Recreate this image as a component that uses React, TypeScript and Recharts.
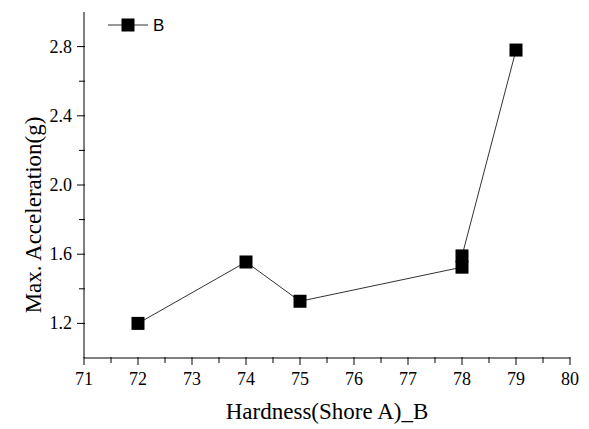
import React from 'react';
import { LineChart, Line, XAxis, YAxis } from 'recharts';

// readings
const hardness = [72, 74, 75, 78, 78, 79];
const maxAccel = [1.2, 1.555, 1.328, 1.525, 1.59, 2.78];
const seriesName = 'B';

const xTicks = [71, 71.5, 72, 72.5, 73, 73.5, 74, 74.5, 75, 75.5, 76, 76.5, 77, 77.5, 78, 78.5, 79, 79.5, 80];
const yTicks = [1.2, 1.4, 1.6, 1.8, 2.0, 2.2, 2.4, 2.6, 2.8];
const yMajor = [1.2, 1.6, 2.0, 2.4, 2.8];

const data = hardness.map((h, i) => ({ h, v: maxAccel[i] }));

const SERIF = '"Liberation Serif", "Times New Roman", serif';
const SANS = '"Liberation Sans", Arial, sans-serif';

const SquareDot = (props: any) => {
  const { cx, cy } = props;
  if (cx == null || cy == null) return null;
  return <rect x={cx - 6.5} y={cy - 6.5} width={13} height={13} fill="#000" />;
};

const renderXTick = (props: any) => {
  const { x, y, payload } = props;
  const major = Number.isInteger(payload.value);
  return (
    <g key={`xt-${payload.value}`}>
      <line x1={x} x2={x} y1={y - 1} y2={y + (major ? 7 : 5)} stroke="#000" strokeWidth={1} />
      {major && (
        <text x={x} y={y + 27} textAnchor="middle" fontFamily={SERIF} fontSize={18} fill="#000">
          {payload.value}
        </text>
      )}
    </g>
  );
};

const renderYTick = (props: any) => {
  const { x, y, payload } = props;
  const major = yMajor.some((m) => Math.abs(m - payload.value) < 1e-6);
  return (
    <g key={`yt-${payload.value}`}>
      <line x1={x + 1} x2={x - (major ? 7 : 5)} y1={y} y2={y} stroke="#000" strokeWidth={1} />
      {major && (
        <text x={x - 12} y={y + 6} textAnchor="end" fontFamily={SERIF} fontSize={18} fill="#000">
          {payload.value.toFixed(1)}
        </text>
      )}
    </g>
  );
};

export default function App() {
  return (
    <div style={{ position: 'absolute', left: 0, top: 0, width: 589, height: 429, background: '#fff' }}>
      <LineChart width={589} height={429} data={data} margin={{ top: 12, right: 19, bottom: 0, left: 0 }}>
        <XAxis
          dataKey="h"
          type="number"
          domain={[71, 80]}
          allowDataOverflow
          ticks={xTicks}
          interval={0}
          height={71}
          tickSize={0}
          tickMargin={0}
          tickLine={false}
          tick={renderXTick}
          axisLine={{ stroke: '#000', strokeWidth: 1 }}
          label={{
            content: (p: any) => {
              const vb = p.viewBox;
              return (
                <text x={vb.x + vb.width / 2} y={vb.y + 61} textAnchor="middle" fontFamily={SERIF} fontSize={23} fill="#000">
                  Hardness(Shore A)_B
                </text>
              );
            },
          }}
        />
        <YAxis
          type="number"
          domain={[1.0, 3.0]}
          allowDataOverflow
          ticks={yTicks}
          interval={0}
          width={84}
          tickSize={0}
          tickMargin={0}
          tickLine={false}
          tick={renderYTick}
          axisLine={{ stroke: '#000', strokeWidth: 1 }}
          label={{
            content: (p: any) => {
              const vb = p.viewBox;
              const cx = vb.x + 33;
              const cy = vb.y + vb.height / 2 + 30;
              return (
                <text x={cx} y={cy} transform={`rotate(-90, ${cx}, ${cy})`} textAnchor="middle" dominantBaseline="central" fontFamily={SERIF} fontSize={23} fill="#000">
                  Max. Acceleration(g)
                </text>
              );
            },
          }}
        />
        <Line
          type="linear"
          dataKey="v"
          name={seriesName}
          stroke="#333"
          strokeWidth={1}
          dot={<SquareDot />}
          activeDot={false}
          isAnimationActive={false}
        />
      </LineChart>
      <svg width={80} height={24} style={{ position: 'absolute', left: 106, top: 13 }}>
        <line x1={2} x2={42} y1={12} y2={12} stroke="#333" strokeWidth={1} />
        <rect x={15.5} y={5.5} width={13} height={13} fill="#000" />
        <text x={47} y={18} fontFamily={SANS} fontSize={17} fill="#000">{seriesName}</text>
      </svg>
    </div>
  );
}
